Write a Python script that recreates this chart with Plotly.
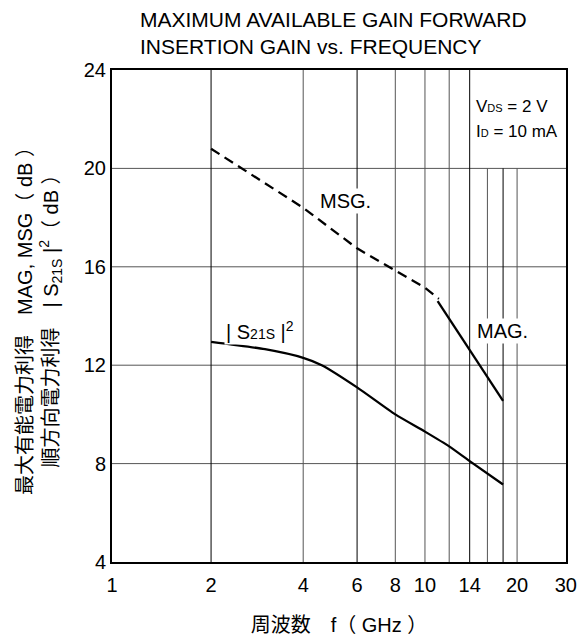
import plotly.graph_objects as go
import math

# ---- data ----
msg_freq = [2, 3, 4, 6, 8, 10, 11.1]
msg_db = [20.8, 19.4, 18.4, 16.75, 15.85, 15.15, 14.7]

mag_freq = [11.0, 14, 18]
mag_db = [14.6, 12.6, 10.55]

s21_freq = [2, 3, 4, 4.6, 6, 8, 10, 12, 14, 18]
s21_db = [12.95, 12.65, 12.3, 12.0, 11.1, 10.0, 9.3, 8.7, 8.1, 7.15]

x_tick_labels = ["1", "2", "4", "6", "8", "10", "14", "20", "30"]
x_tick_freqs = [1, 2, 4, 6, 8, 10, 14, 20, 30]
y_ticks = [4, 8, 12, 16, 20, 24]

grid_dark_freqs = [2, 6, 14]
grid_gray_freqs = [4, 8, 10, 12]
grid_short_dark = [18]
grid_short_gray = [16, 20]
grid_h_db = [8, 12, 16, 20]

# axis drawn slightly wider than 1..30 to match the hand-drawn original
x_lo, x_hi = 0.949, 28.9

FONT = "Liberation Sans, Arial, Noto Sans CJK JP, sans-serif"

fig = go.Figure()

fig.add_trace(go.Scatter(x=msg_freq, y=msg_db, mode="lines",
                         line=dict(color="black", width=2.3, dash="10px,6px"),
                         showlegend=False, hoverinfo="skip"))
fig.add_trace(go.Scatter(x=mag_freq, y=mag_db, mode="lines",
                         line=dict(color="black", width=2.3),
                         showlegend=False, hoverinfo="skip"))
fig.add_trace(go.Scatter(x=s21_freq, y=s21_db, mode="lines",
                         line=dict(color="black", width=2.3, shape="spline", smoothing=0.6),
                         showlegend=False, hoverinfo="skip"))

shapes = []
for f in grid_dark_freqs:
    shapes.append(dict(type="line", xref="x", yref="y", x0=f, x1=f, y0=4, y1=24,
                       line=dict(color="black", width=1), layer="below"))
for f in grid_gray_freqs:
    shapes.append(dict(type="line", xref="x", yref="y", x0=f, x1=f, y0=4, y1=24,
                       line=dict(color="#555555", width=1), layer="below"))
for f in grid_short_dark:
    shapes.append(dict(type="line", xref="x", yref="y", x0=f, x1=f, y0=4, y1=20,
                       line=dict(color="black", width=1), layer="below"))
for f in grid_short_gray:
    shapes.append(dict(type="line", xref="x", yref="y", x0=f, x1=f, y0=4, y1=20,
                       line=dict(color="#555555", width=1), layer="below"))
for v in grid_h_db:
    shapes.append(dict(type="line", xref="paper", yref="y", x0=0, x1=1, y0=v, y1=v,
                       line=dict(color="#555555", width=1), layer="below"))

tickvals = list(x_tick_freqs)
tickvals[0] = x_lo * 1.001
tickvals[-1] = x_hi * 0.999

annotations = [
    dict(x=26 / 454, y=1, xref="paper", yref="paper", xanchor="left", yanchor="bottom",
         yshift=10, align="left", showarrow=False,
         text="MAXIMUM AVAILABLE GAIN FORWARD<br>INSERTION GAIN vs. FREQUENCY",
         font=dict(size=21, color="black", family=FONT)),
    dict(x=math.log10(5.48), y=18.67, xref="x", yref="y", text="MSG.", showarrow=False,
         font=dict(size=20, color="black", family=FONT), bgcolor="white"),
    dict(x=math.log10(17.9), y=13.4, xref="x", yref="y", text="MAG.", showarrow=False,
         font=dict(size=20, color="black", family=FONT), bgcolor="white"),
    dict(x=math.log10(2.9), y=13.4, xref="x", yref="y",
         text="| S<span style='font-size:14px'>21S</span> |<sup>2</sup>", showarrow=False,
         font=dict(size=20, color="black", family=FONT), bgcolor="white"),
    dict(x=math.log10(14.45), y=22.5, xref="x", yref="y", xanchor="left",
         text="V<span style='font-size:11px'>DS</span> = 2 V", showarrow=False,
         font=dict(size=17, color="black", family=FONT)),
    dict(x=math.log10(14.45), y=21.5, xref="x", yref="y", xanchor="left",
         text="I<span style='font-size:11px'>D</span> = 10 mA", showarrow=False,
         font=dict(size=17, color="black", family=FONT)),
]

fig.update_layout(
    width=587, height=638,
    margin=dict(l=112, r=21, t=70, b=76),
    paper_bgcolor="white", plot_bgcolor="white",
    font=dict(family=FONT, color="black", size=20),
    xaxis=dict(type="log", range=[math.log10(x_lo), math.log10(x_hi)],
               tickvals=tickvals, ticktext=x_tick_labels,
               showgrid=False, zeroline=False, ticks="", automargin=False,
               showline=True, linecolor="black", linewidth=2, mirror=True,
               tickfont=dict(size=20), ticklabelstandoff=4,
               title=dict(text="周波数　f（ GHz ）", font=dict(size=20), standoff=23)),
    yaxis=dict(range=[4, 24], tickvals=y_ticks,
               showgrid=False, zeroline=False, ticks="", automargin=False,
               showline=True, linecolor="black", linewidth=2, mirror=True,
               tickfont=dict(size=20),
               title=dict(text="最大有能電力利得　MAG, MSG（ dB ）<br>順方向電力利得　| S<sub>21S</sub> |<sup>2</sup>（ dB ）",
                          font=dict(size=20), standoff=20)),
    shapes=shapes,
    annotations=annotations,
)

fig.write_html("out.html", config={"displayModeBar": False},
               post_script="document.body.style.margin='0px';")
